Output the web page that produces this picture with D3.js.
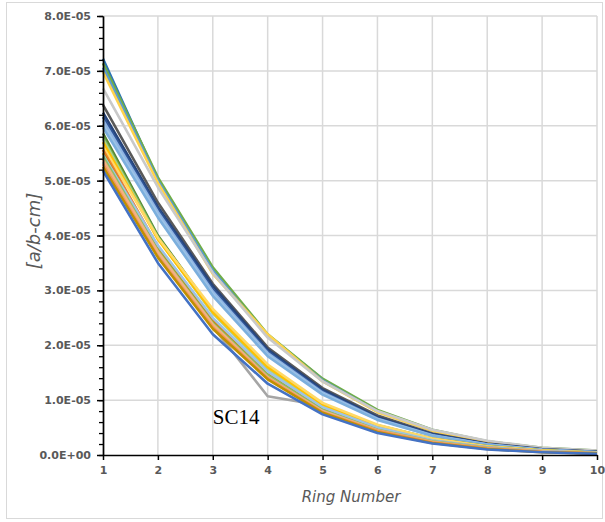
<!DOCTYPE html>
<html>
<head>
<meta charset="utf-8">
<script src="https://cdn.jsdelivr.net/npm/d3@7"></script>
<style>
  body { margin: 0; background: #fff; }
  text { font-family: "DejaVu Sans", sans-serif; }
</style>
</head>
<body>
<div id="chart"></div>
<script>
// Ring numbers along the x axis.
var rings = [1, 2, 3, 4, 5, 6, 7, 8, 9, 10];

// Values in units of 1E-05 a/b-cm, one array per sample.
var sc01 = [7.22, 5.02, 3.36, 2.18, 1.38, 0.80, 0.45, 0.24, 0.12, 0.07];
var sc02 = [7.14, 5.06, 3.42, 2.20, 1.39, 0.82, 0.46, 0.25, 0.13, 0.08];
var sc03 = [7.06, 5.00, 3.36, 2.16, 1.36, 0.79, 0.45, 0.24, 0.12, 0.07];
var sc04 = [6.98, 4.96, 3.30, 2.20, 1.34, 0.78, 0.44, 0.24, 0.12, 0.07];
var sc05 = [6.68, 4.88, 3.32, 2.14, 1.34, 0.80, 0.46, 0.26, 0.13, 0.08];
var sc06 = [6.38, 4.60, 3.12, 1.96, 1.22, 0.72, 0.39, 0.21, 0.11, 0.06];
var sc07 = [6.24, 4.52, 3.08, 1.92, 1.19, 0.69, 0.38, 0.20, 0.10, 0.06];
var sc08 = [6.16, 4.48, 3.02, 1.89, 1.16, 0.67, 0.37, 0.20, 0.10, 0.05];
var sc09 = [6.10, 4.43, 2.98, 1.86, 1.14, 0.66, 0.36, 0.19, 0.10, 0.05];
var sc10 = [6.03, 4.38, 2.94, 1.83, 1.12, 0.65, 0.35, 0.19, 0.09, 0.05];
var sc11 = [5.97, 4.33, 2.90, 1.80, 1.10, 0.64, 0.35, 0.18, 0.09, 0.05];
var sc12 = [5.86, 4.00, 2.62, 1.60, 0.92, 0.54, 0.30, 0.16, 0.08, 0.04];
var sc13 = [5.80, 3.98, 2.60, 1.58, 0.90, 0.53, 0.29, 0.16, 0.08, 0.04];
var sc14 = [5.34, 3.64, 2.34, 1.07, 0.90, 0.50, 0.27, 0.14, 0.07, 0.04];
var sc15 = [5.76, 3.95, 2.58, 1.57, 0.90, 0.52, 0.29, 0.15, 0.08, 0.04];
var sc16 = [5.70, 3.93, 2.60, 1.60, 0.92, 0.53, 0.29, 0.15, 0.08, 0.04];
var sc17 = [5.62, 3.96, 2.66, 1.65, 0.95, 0.55, 0.30, 0.16, 0.08, 0.04];
var sc18 = [5.56, 3.80, 2.46, 1.50, 0.85, 0.48, 0.26, 0.14, 0.07, 0.03];
var sc19 = [5.50, 3.76, 2.42, 1.47, 0.82, 0.46, 0.25, 0.13, 0.06, 0.03];
var sc20 = [5.47, 3.82, 2.50, 1.52, 0.87, 0.50, 0.27, 0.14, 0.07, 0.04];
var sc21 = [5.44, 3.72, 2.40, 1.45, 0.82, 0.46, 0.25, 0.13, 0.06, 0.03];
var sc22 = [5.38, 3.70, 2.38, 1.42, 0.80, 0.45, 0.24, 0.12, 0.06, 0.03];
var sc23 = [5.30, 3.62, 2.33, 1.40, 0.78, 0.44, 0.23, 0.12, 0.06, 0.03];
var sc24 = [5.25, 3.60, 2.30, 1.38, 0.77, 0.42, 0.22, 0.11, 0.05, 0.03];
var sc25 = [5.18, 3.50, 2.20, 1.30, 0.74, 0.40, 0.21, 0.10, 0.05, 0.02];

var seriesNames = ["SC01", "SC02", "SC03", "SC04", "SC05", "SC06", "SC07", "SC08",
  "SC09", "SC10", "SC11", "SC12", "SC13", "SC14", "SC15", "SC16", "SC17", "SC18",
  "SC19", "SC20", "SC21", "SC22", "SC23", "SC24", "SC25"];
var seriesValues = [sc01, sc02, sc03, sc04, sc05, sc06, sc07, sc08, sc09, sc10,
  sc11, sc12, sc13, sc14, sc15, sc16, sc17, sc18, sc19, sc20, sc21, sc22, sc23,
  sc24, sc25];

var yTicks = [0, 1e-5, 2e-5, 3e-5, 4e-5, 5e-5, 6e-5, 7e-5, 8e-5];
var yTickLabels = ["0.0E+00", "1.0E-05", "2.0E-05", "3.0E-05", "4.0E-05",
  "5.0E-05", "6.0E-05", "7.0E-05", "8.0E-05"];
var annotation = { label: "SC14", ring: 3, value: 0.62e-5 };

// Colours, kept apart from the data.
var palette = ["#2E75B6", "#70AD47", "#5B9BD5", "#FFD34D", "#C9C9C9",
  "#595959", "#264478", "#2F5597", "#8FB4E3", "#9DC3E6", "#7CAFDD",
  "#548235", "#70AD47", "#A5A5A5", "#A9D18E", "#FFC000", "#FFD966",
  "#ED7D31", "#BF9000", "#9DC3E6", "#8CC168", "#F4B183", "#F1975A",
  "#C09000", "#4472C4"];

var width = 605, height = 522;
var svg = d3.select("#chart").append("svg")
  .attr("width", width)
  .attr("height", height);

// Outer chart frame.
svg.append("rect")
  .attr("x", 6.5).attr("y", 2.5)
  .attr("width", 596).attr("height", 516)
  .attr("fill", "#fff")
  .attr("stroke", "#d9d9d9");

var xScale = d3.scaleLinear().domain([1, 10]).range([103, 597]);
var yScale = d3.scaleLinear().domain([0, 8e-5]).range([455, 16]);

// Gridlines.
svg.append("g")
  .selectAll("line")
  .data(rings.slice(1))
  .enter().append("line")
  .attr("x1", function(d) { return xScale(d); })
  .attr("x2", function(d) { return xScale(d); })
  .attr("y1", yScale(0)).attr("y2", yScale(8e-5))
  .attr("stroke", "#d9d9d9").attr("stroke-width", 1.5);

svg.append("g")
  .selectAll("line")
  .data(yTicks.slice(1))
  .enter().append("line")
  .attr("x1", xScale(1)).attr("x2", xScale(10))
  .attr("y1", function(d) { return yScale(d); })
  .attr("y2", function(d) { return yScale(d); })
  .attr("stroke", "#d9d9d9").attr("stroke-width", 1.5);

// Series lines.
var line = d3.line()
  .x(function(d, i) { return xScale(rings[i]); })
  .y(function(d) { return yScale(d * 1e-5); });

svg.append("g")
  .selectAll("path")
  .data(seriesValues)
  .enter().append("path")
  .attr("d", line)
  .attr("fill", "none")
  .attr("stroke", function(d, i) { return palette[i]; })
  .attr("stroke-width", 2.6)
  .attr("stroke-linejoin", "round")
  .append("title")
  .text(function(d, i) { return seriesNames[i]; });

// Axes.
var xAxis = d3.axisBottom(xScale)
  .tickValues(rings)
  .tickFormat(d3.format("d"))
  .tickSizeInner(5)
  .tickSizeOuter(0)
  .tickPadding(6);

var yAxis = d3.axisLeft(yScale)
  .tickValues(yTicks)
  .tickFormat(function(d, i) { return yTickLabels[i]; })
  .tickSizeInner(6)
  .tickSizeOuter(0)
  .tickPadding(6);

var yMinor = d3.axisLeft(yScale)
  .tickValues(d3.range(0, 41).map(function(i) { return i * 2e-6; }))
  .tickFormat("")
  .tickSizeInner(4)
  .tickSizeOuter(0);

svg.append("g")
  .attr("transform", "translate(" + xScale(1) + ",0)")
  .call(yMinor)
  .call(function(g) { g.selectAll("path, line").attr("stroke", "#000").attr("stroke-width", 1.3); });

var gy = svg.append("g")
  .attr("transform", "translate(" + xScale(1) + ",0)")
  .call(yAxis);
gy.attr("font-family", null);
gy.selectAll("path, line").attr("stroke", "#000").attr("stroke-width", 1.5);
gy.selectAll("text")
  .attr("fill", "#595959")
  .style("font-size", "11px")
  .style("font-weight", "bold");

var gx = svg.append("g")
  .attr("transform", "translate(0," + yScale(0) + ")")
  .call(xAxis);
gx.attr("font-family", null);
gx.selectAll("path, line").attr("stroke", "#000").attr("stroke-width", 1.5);
gx.selectAll("text")
  .attr("fill", "#595959")
  .style("font-size", "11px")
  .style("font-weight", "bold");

// Axis titles.
svg.append("text")
  .attr("x", 351)
  .attr("y", 502)
  .attr("text-anchor", "middle")
  .attr("fill", "#595959")
  .style("font-size", "15px")
  .style("font-style", "italic")
  .text("Ring Number");

svg.append("text")
  .attr("transform", "translate(40,231) rotate(-90)")
  .attr("text-anchor", "middle")
  .attr("fill", "#595959")
  .style("font-size", "18px")
  .style("font-style", "italic")
  .text("[a/b-cm]");

// Annotation for the outlier.
svg.append("text")
  .attr("x", xScale(annotation.ring))
  .attr("y", yScale(annotation.value) + 3)
  .attr("fill", "#000")
  .style("font-family", "'Liberation Serif', 'Times New Roman', serif")
  .style("font-size", "21px")
  .text(annotation.label);
</script>
</body>
</html>
